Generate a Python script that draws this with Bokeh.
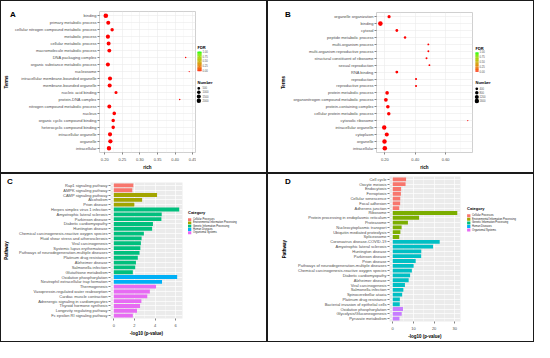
import numpy as np
from bokeh.plotting import figure
from bokeh.models import (FactorRange, Range1d, FixedTicker, PrintfTickFormatter, Label,
                          ColumnDataSource)
from bokeh.layouts import column, row
from bokeh.embed import file_html
from bokeh.resources import INLINE
from bokeh.core.properties import value

FONT = "Liberation Sans"

# ---------------- data: panel A (GO terms) ----------------
a_terms = ["binding", "primary metabolic process", "cellular nitrogen compound metabolic process",
           "metabolic process", "cellular metabolic process", "macromolecule metabolic process",
           "DNA packaging complex", "organic substance metabolic process", "nucleosome",
           "intracellular membrane-bounded organelle", "membrane-bounded organelle",
           "nucleic acid binding", "protein-DNA complex", "nitrogen compound metabolic process",
           "nucleus", "organic cyclic compound binding", "heterocyclic compound binding",
           "intracellular organelle", "organelle", "intracellular"]
a_rich = [0.203, 0.210, 0.221, 0.209, 0.211, 0.213, 0.430, 0.209, 0.440, 0.215,
          0.214, 0.232, 0.413, 0.213, 0.227, 0.224, 0.224, 0.215, 0.216, 0.212]
a_number = [2100, 1450, 950, 1550, 1450, 1350, 40, 1450, 30, 1500,
            1550, 700, 50, 1350, 1050, 1000, 1000, 1650, 1750, 1850]
a_fdr = [0.00, 0.00, 0.00, 0.00, 0.00, 0.00, 0.01, 0.00, 0.01, 0.00,
         0.00, 0.00, 0.01, 0.00, 0.00, 0.00, 0.00, 0.00, 0.00, 0.00]
a_size_breaks = [500, 1000, 1500, 2000]

# ---------------- data: panel B (GO terms) ----------------
b_terms = ["organelle organization", "binding", "cytosol", "peptide metabolic process",
           "multi-organism process", "multi-organism reproductive process",
           "structural constituent of ribosome", "sexual reproduction", "RNA binding",
           "reproduction", "reproductive process", "protein metabolic process",
           "organonitrogen compound metabolic process", "protein-containing complex",
           "cellular protein metabolic process", "cytosolic ribosome", "intracellular organelle",
           "cytoplasm", "organelle", "intracellular"]
b_rich = [0.228, 0.171, 0.279, 0.333, 0.486, 0.486, 0.474, 0.493, 0.279, 0.405,
          0.405, 0.215, 0.207, 0.220, 0.226, 0.745, 0.196, 0.213, 0.198, 0.200]
b_number = [600, 1700, 420, 300, 130, 130, 140, 120, 450, 190,
            190, 900, 1000, 880, 820, 60, 1500, 1200, 1550, 1650]
b_fdr = [0.00, 0.00, 0.00, 0.00, 0.01, 0.01, 0.01, 0.01, 0.00, 0.00,
         0.00, 0.00, 0.00, 0.00, 0.00, 0.01, 0.00, 0.00, 0.00, 0.00]
b_size_breaks = [400, 800, 1200, 1600]

fdr_ticks = [0.00, 0.25, 0.50, 0.75, 1.00]

# ---------------- data: panel C (KEGG) ----------------
categories = ["Cellular Processes", "Environmental Information Processing",
              "Genetic Information Processing", "Human Diseases", "Organismal Systems"]
category_colors = ["#F8766D", "#A3A500", "#00BF7D", "#00B0F6", "#E76BF3"]

c_path = ["Rap1 signaling pathway", "AMPK signaling pathway", "CAMP signaling pathway",
          "Alcoholism", "Prion disease", "Herpes simplex virus 1 infection",
          "Amyotrophic lateral sclerosis", "Parkinson disease", "Diabetic cardiomyopathy",
          "Huntington disease", "Chemical carcinogenesis-reactive oxygen species",
          "Fluid shear stress and atherosclerosis", "Viral carcinogenesis",
          "Systemic lupus erythematosus", "Pathways of neurodegeneration-multiple diseases",
          "Platinum drug resistance", "Alzheimer disease", "Salmonella infection",
          "Glutathione metabolism", "Oxidative phosphorylation",
          "Neutrophil extracellular trap formation", "Thermogenesis",
          "Vasopressin-regulated water reabsorption", "Cardiac muscle contraction",
          "Adrenergic signaling in cardiomyocytes", "Thyroid hormone synthesis",
          "Longevity regulating pathway", "Fc epsilon RI signaling pathway"]
c_logp = [1.90, 1.80, 4.20, 2.75, 2.00, 6.35, 4.65, 4.62, 3.80, 3.72, 2.92, 2.70, 2.63, 2.58,
          2.50, 2.33, 2.15, 2.08, 1.85, 6.15, 4.68, 4.10, 3.50, 3.25, 2.68, 2.55, 2.25, 1.85]
c_cat = [0, 0, 1, 1, 1, 2, 2, 2, 2, 2, 2, 2, 2, 2, 2, 2, 2, 2, 2, 3, 3, 4, 4, 4, 4, 4, 4, 4]

# ---------------- data: panel D (KEGG) ----------------
d_path = ["Cell cycle", "Oocyte meiosis", "Endocytosis", "Ferroptosis", "Cellular senescence",
          "Focal adhesion", "Adherens junction", "Ribosome",
          "Protein processing in endoplasmic reticulum", "Proteasome",
          "Nucleocytoplasmic transport", "Ubiquitin mediated proteolysis", "Spliceosome",
          "Coronavirus disease-COVID-19", "Amyotrophic lateral sclerosis", "Huntington disease",
          "Parkinson disease", "Prion disease", "Pathways of neurodegeneration-multiple diseases",
          "Chemical carcinogenesis-reactive oxygen species", "Diabetic cardiomyopathy",
          "Alzheimer disease", "Viral carcinogenesis", "Salmonella infection",
          "Spinocerebellar ataxia", "Platinum drug resistance",
          "Bacterial invasion of epithelial cells", "Oxidative phosphorylation",
          "Glycolysis/Gluconeogenesis", "Pyruvate metabolism"]
d_logp = [6.45, 6.20, 4.05, 3.95, 3.65, 3.60, 3.15, 31.20, 12.75, 7.35, 4.30, 3.70, 3.15,
          22.70, 19.50, 13.80, 13.75, 11.10, 10.10, 9.25, 8.40, 7.70, 5.90, 5.15, 4.55,
          3.45, 3.40, 4.95, 4.35, 3.25]
d_group_colors = ["#F8766D", "#7CAE00", "#00BFC4", "#C77CFF"]
d_cat = [0, 0, 0, 0, 0, 0, 0, 1, 1, 1, 1, 1, 1, 2, 2, 2, 2, 2, 2, 2, 2, 2, 2, 2, 2, 2, 2, 3, 3, 3]


# ---------------- colour gradient (Lab interpolation red -> green) ----------------
_M = np.array([[0.4124, 0.3576, 0.1805], [0.2126, 0.7152, 0.0722], [0.0193, 0.1192, 0.9505]])
_W = _M.sum(axis=1)


def _lin(c):
    return np.where(c <= 0.04045, c / 12.92, ((c + 0.055) / 1.055) ** 2.4)


def _gam(c):
    c = np.clip(c, 0, None)
    return np.where(c <= 0.0031308, 12.92 * c, 1.055 * np.power(c, 1 / 2.4) - 0.055)


def rgb2lab(rgb):
    xyz = _M @ _lin(np.array(rgb) / 255.0) / _W
    d = 6 / 29
    f = np.where(xyz > d ** 3, np.cbrt(xyz), xyz / (3 * d * d) + 4 / 29)
    return np.array([116 * f[1] - 16, 500 * (f[0] - f[1]), 200 * (f[1] - f[2])])


def lab2hex(lab):
    d = 6 / 29
    fy = (lab[0] + 16) / 116
    f = np.array([fy + lab[1] / 500, fy, fy - lab[2] / 200])
    xyz = np.where(f > d, f ** 3, 3 * d * d * (f - 4 / 29)) * _W
    rgb = np.clip(np.round(_gam(np.linalg.solve(_M, xyz)) * 255), 0, 255).astype(int)
    return "#%02x%02x%02x" % tuple(rgb)


_lo, _hi = rgb2lab([255, 0, 0]), rgb2lab([0, 255, 0])
FDR_PALETTE = [lab2hex(_lo + (_hi - _lo) * t) for t in np.linspace(0, 1, 48)]


def fdr_color(v):
    return FDR_PALETTE[int(round(v * (len(FDR_PALETTE) - 1)))]


def make_diam(nums):
    nmin, nmax = min(nums), max(nums)

    def f(n):
        return 1.2 + 3.4 * np.sqrt(max(n - nmin, 0) / (nmax - nmin))
    return f


def set_letter(p, text, offset, standoff):
    p.title.text = text
    p.title.align = "left"
    p.title.vertical_align = "bottom"
    p.title.offset = offset
    p.title.standoff = standoff
    p.title.text_font = FONT
    p.title.text_font_size = "8px"
    p.title.text_font_style = "bold"
    p.title.text_color = "black"


def style_axes(p, xlabel, ylabel, ylab_standoff):
    for ax in list(p.xaxis) + list(p.yaxis):
        ax.axis_line_color = None
        ax.major_tick_line_color = "#333333"
        ax.major_tick_line_width = 0.6
        ax.major_tick_out = 2
        ax.major_tick_in = 0
        ax.minor_tick_line_color = None
        ax.major_label_text_font = FONT
        ax.major_label_text_font_size = "4px"
        ax.major_label_text_color = "#4D4D4D"
        ax.major_label_standoff = 1
        ax.axis_label_text_font = FONT
        ax.axis_label_text_font_size = "4.5px"
        ax.axis_label_text_font_style = "bold"
        ax.axis_label_text_color = "black"
    p.xaxis.axis_label = xlabel
    p.yaxis.axis_label = ylabel
    p.xaxis.axis_label_standoff = 1
    p.yaxis.axis_label_standoff = ylab_standoff


def legend_fig(w, h):
    # pixel-space figure for the legends (y grows downwards)
    p = figure(width=w, height=h, output_backend="svg", toolbar_location=None,
               x_range=Range1d(0, w), y_range=Range1d(h, 0),
               x_axis_type=None, y_axis_type=None, min_border=0)
    p.outline_line_color = None
    p.background_fill_color = "white"
    p.border_fill_color = "white"
    return p


def txt(p, x, y, text, size, bold=False, color="black"):
    p.add_layout(Label(x=x, y=y, text=text, text_font=FONT, text_font_size=size,
                       text_font_style="bold" if bold else "normal",
                       text_align="left", text_baseline="middle", text_color=color))


def labels(q, x, ys, texts, size, color="#4D4D4D"):
    q.text(x=x, y=ys, text=texts, text_font=value(FONT), text_font_size=value(size),
           text_align="left", text_baseline="middle", text_color=color)


def dot_panel(terms, rich, number, fdr, breaks, xr, ticks, minor, geo, letter, ylab_standoff,
              lw, lg):
    W, H, L, T, FW, FH = geo
    p = figure(width=W, height=H, output_backend="svg", toolbar_location=None,
               x_range=Range1d(*xr),
               y_range=FactorRange(factors=terms[::-1], range_padding=0.1,
                                   range_padding_units="absolute"),
               min_border_left=L, min_border_right=W - L - FW,
               min_border_top=T, min_border_bottom=H - T - FH)
    p.background_fill_color = "white"
    p.border_fill_color = "white"
    p.outline_line_color = "#C4C4C4"
    p.outline_line_width = 0.8
    p.xaxis.ticker = FixedTicker(ticks=ticks, minor_ticks=minor)
    p.xaxis.formatter = PrintfTickFormatter(format="%.2f")
    p.xgrid.grid_line_color = "#EBEBEB"
    p.xgrid.grid_line_width = 0.6
    p.xgrid.minor_grid_line_color = "#F3F3F3"
    p.xgrid.minor_grid_line_width = 0.4
    p.ygrid.grid_line_color = "#EBEBEB"
    p.ygrid.grid_line_width = 0.6
    style_axes(p, "rich", "Terms", ylab_standoff)
    set_letter(p, letter[0], letter[1], letter[2])

    diam = make_diam(number)
    src = ColumnDataSource(dict(x=rich, y=terms, s=[diam(n) for n in number],
                                c=[fdr_color(v) for v in fdr]))
    p.scatter(x="x", y="y", size="s", fill_color="c", line_color=None, source=src)

    # ---- legend column: FDR colour bar + Number size legend ----
    q = legend_fig(lw, H)
    txt(q, lg["title_x"], lg["fdr_y"], "FDR", "4px", bold=True)
    top, bot, bx, bw = lg["bar_top"], lg["bar_bottom"], lg["bar_x"], lg["bar_w"]
    nseg = len(FDR_PALETTE)
    hseg = (bot - top) / nseg
    seg_top = [bot - (i + 1) * hseg for i in range(nseg)]
    seg_bot = [min(bot, t + hseg * 1.6) for t in seg_top]
    q.quad(left=bx, right=bx + bw, top=seg_top, bottom=seg_bot,
           fill_color=FDR_PALETTE, line_color=None)
    tick_y = [bot - v * (bot - top) for v in fdr_ticks]
    q.segment(x0=bx, x1=bx + 0.9, y0=tick_y, y1=tick_y, line_color="white", line_width=0.5)
    q.segment(x0=bx + bw - 0.9, x1=bx + bw, y0=tick_y, y1=tick_y, line_color="white",
              line_width=0.5)
    labels(q, bx + bw + 1.0, tick_y, ["%.2f" % v for v in fdr_ticks], "2.7px")

    txt(q, lg["title_x"], lg["num_y"], "Number", "4px", bold=True)
    q.scatter(x=lg["dot_x"], y=lg["dot_ys"], size=[diam(n) for n in breaks],
              fill_color="black", line_color=None)
    labels(q, lg["lab_x"], lg["dot_ys"], [str(n) for n in breaks], "2.7px")
    return row(p, q, styles={"border": "1px solid #1a1a1a"})


def bar_panel(names, vals, cat, grp_colors, ticks, minor, geo, letter, ylab_standoff,
              lw, leg_x, leg_ys):
    W, H, L, T, FW, FH = geo
    vmax = max(vals)
    p = figure(width=W, height=H, output_backend="svg", toolbar_location=None,
               x_range=Range1d(-0.05 * vmax, 1.05 * vmax),
               y_range=FactorRange(factors=names[::-1], range_padding=0.1,
                                   range_padding_units="absolute"),
               min_border_left=L, min_border_right=W - L - FW,
               min_border_top=T, min_border_bottom=H - T - FH)
    p.background_fill_color = "#EBEBEB"
    p.border_fill_color = "white"
    p.outline_line_color = None
    p.xaxis.ticker = FixedTicker(ticks=ticks, minor_ticks=minor)
    p.xgrid.grid_line_color = "white"
    p.xgrid.grid_line_width = 0.7
    p.xgrid.minor_grid_line_color = "white"
    p.xgrid.minor_grid_line_width = 0.35
    p.ygrid.grid_line_color = "white"
    p.ygrid.grid_line_width = 0.7
    style_axes(p, "-log10 (p-value)", "Pathway", ylab_standoff)
    set_letter(p, letter[0], letter[1], letter[2])

    for k, col in enumerate(grp_colors):
        idx = [i for i, c in enumerate(cat) if c == k]
        src = ColumnDataSource(dict(y=[names[i] for i in idx], r=[vals[i] for i in idx]))
        p.hbar(y="y", right="r", left=0, height=0.8, fill_color=col, line_color=None, source=src)

    # ---- legend column: Category keys ----
    q = legend_fig(lw, H)
    txt(q, leg_x, leg_ys[0] - 8.2, "Category", "4px", bold=True)
    q.rect(x=leg_x + 1.65, y=leg_ys, width=3.3, height=3.5, fill_color=category_colors,
           line_color=None)
    labels(q, leg_x + 4.9, leg_ys, categories, "2.6px", color="#1a1a1a")
    return row(p, q, styles={"border": "1px solid #1a1a1a"})


panelA = dot_panel(a_terms, a_rich, a_number, a_fdr, a_size_breaks, (0.1851, 0.4579),
                   [0.20, 0.25, 0.30, 0.35, 0.40, 0.45], [0.225, 0.275, 0.325, 0.375, 0.425],
                   (195, 171, 94, 10, 100, 142), ("A", -89.5, -15), 3,
                   70, dict(title_x=1.0, fdr_y=44.0, bar_x=1.0, bar_w=4, bar_top=48.5,
                            bar_bottom=72.5, num_y=85.5, dot_x=2.3,
                            dot_ys=[93.2, 98.0, 103.1, 108.2], lab_x=6.0))
panelB = dot_panel(b_terms, b_rich, b_number, b_fdr, b_size_breaks, (0.1454, 0.776),
                   [0.20, 0.40, 0.60], [0.30, 0.50, 0.70],
                   (206, 171, 108, 11, 96, 142), ("B", -91.4, -13), 4,
                   59, dict(title_x=1.0, fdr_y=44.0, bar_x=1.0, bar_w=3, bar_top=48.5,
                            bar_bottom=72.5, num_y=85.5, dot_x=2.3,
                            dot_ys=[93.2, 98.0, 103.1, 108.2], lab_x=5.0))
panelC = bar_panel(c_path, c_logp, c_cat, category_colors, [0, 2, 4, 6], [1, 3, 5],
                   (183, 167, 108, 8, 73, 136), ("C", -103.4, -7), 7, 82, 3.5,
                   [45.5, 49.6, 53.6, 57.7, 61.7])
panelD = bar_panel(d_path, d_logp, d_cat, d_group_colors, [0, 10, 20, 30], [5, 15, 25],
                   (194, 167, 121, 2, 71, 145), ("D", -104.4, -18), 8, 71, 4.6,
                   [45.1, 49.3, 53.5, 57.6, 61.7])

layout = column(row(panelA, panelB), row(panelC, panelD))
open("out.html", "w").write(file_html(layout, INLINE))
